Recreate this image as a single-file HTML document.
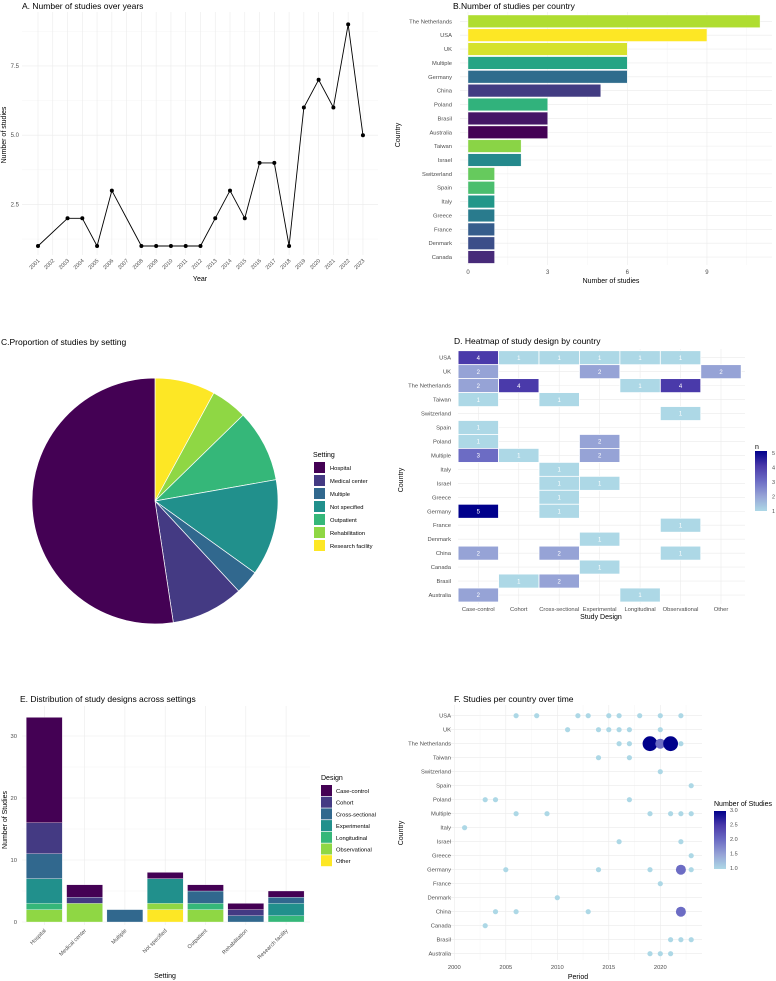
<!DOCTYPE html>
<html><head><meta charset="utf-8"><style>
html,body{margin:0;padding:0;background:#fff;}
svg{display:block;font-family:"Liberation Sans",sans-serif;}
</style></head><body>
<svg id="fig" width="776" height="981" viewBox="0 0 776 981" xmlns="http://www.w3.org/2000/svg">
<defs>
<linearGradient id="gD" x1="0" y1="1" x2="0" y2="0">
<stop offset="0" stop-color="#add8e6"/><stop offset="0.25" stop-color="#96a3d6"/><stop offset="0.5" stop-color="#6c6cc4"/><stop offset="0.75" stop-color="#4a3aaa"/><stop offset="1" stop-color="#00008b"/>
</linearGradient>
</defs>
</svg>
<script>
// ---------- DATA ----------
const yearsA = [2001,2003,2004,2005,2006,2008,2009,2010,2011,2012,2013,2014,2015,2016,2017,2018,2019,2020,2021,2022,2023];
const countsA = [1,2,2,1,3,1,1,1,1,1,2,3,2,4,4,1,6,7,6,9,5];
const countriesB = ["The Netherlands","USA","UK","Multiple","Germany","China","Poland","Brasil","Australia","Taiwan","Israel","Switzerland","Spain","Italy","Greece","France","Denmark","Canada"];
const valuesB = [11,9,6,6,6,5,3,3,3,2,2,1,1,1,1,1,1,1];
const countriesAlpha = ["Australia","Brasil","Canada","China","Denmark","France","Germany","Greece","Israel","Italy","Multiple","Poland","Spain","Switzerland","Taiwan","The Netherlands","UK","USA"];
const settings = ["Hospital","Medical center","Multiple","Not specified","Outpatient","Rehabilitation","Research facility"];
const settingCounts = [33,6,2,8,6,3,5];
const designs = ["Case-control","Cohort","Cross-sectional","Experimental","Longitudinal","Observational","Other"];
const rowsD = ["USA","UK","The Netherlands","Taiwan","Switzerland","Spain","Poland","Multiple","Italy","Israel","Greece","Germany","France","Denmark","China","Canada","Brasil","Australia"];
// cells: [row country, design, n]
const cellsD = [
["USA","Case-control",4],["USA","Cohort",1],["USA","Cross-sectional",1],["USA","Experimental",1],["USA","Longitudinal",1],["USA","Observational",1],
["UK","Case-control",2],["UK","Experimental",2],["UK","Other",2],
["The Netherlands","Case-control",2],["The Netherlands","Cohort",4],["The Netherlands","Longitudinal",1],["The Netherlands","Observational",4],
["Taiwan","Case-control",1],["Taiwan","Cross-sectional",1],
["Switzerland","Observational",1],["Spain","Case-control",1],
["Poland","Case-control",1],["Poland","Experimental",2],
["Multiple","Case-control",3],["Multiple","Cohort",1],["Multiple","Experimental",2],
["Italy","Cross-sectional",1],["Israel","Cross-sectional",1],["Israel","Experimental",1],
["Greece","Cross-sectional",1],["Germany","Case-control",5],["Germany","Cross-sectional",1],
["France","Observational",1],["Denmark","Experimental",1],
["China","Case-control",2],["China","Cross-sectional",2],["China","Observational",1],
["Canada","Experimental",1],["Brasil","Cohort",1],["Brasil","Cross-sectional",2],
["Australia","Case-control",2],["Australia","Longitudinal",1]];
// E: per setting, counts per design (order of designs array)
const caseControlE = [17,2,0,1,1,1,1];
const cohortE = [5,1,0,0,0,1,0];
const crossE = [4,0,2,0,2,1,1];
const experimentalE = [4,0,0,4,0,0,2];
const longitudinalE = [1,0,0,0,1,0,1];
const observationalE = [2,3,0,1,2,0,0];
const otherE = [0,0,0,2,0,0,0];
// F: [country, year, n]
const pointsF = [
["USA",2006,1],["USA",2008,1],["USA",2012,1],["USA",2013,1],["USA",2015,1],["USA",2016,1],["USA",2018,1],["USA",2020,1],["USA",2022,1],
["UK",2011,1],["UK",2014,1],["UK",2015,1],["UK",2016,1],["UK",2017,1],["UK",2020,1],
["The Netherlands",2016,1],["The Netherlands",2017,1],["The Netherlands",2019,3],["The Netherlands",2020,2],["The Netherlands",2021,3],["The Netherlands",2022,1],
["Taiwan",2014,1],["Taiwan",2017,1],["Switzerland",2020,1],["Spain",2023,1],
["Poland",2003,1],["Poland",2004,1],["Poland",2017,1],
["Multiple",2006,1],["Multiple",2009,1],["Multiple",2019,1],["Multiple",2021,1],["Multiple",2022,1],["Multiple",2023,1],
["Italy",2001,1],["Israel",2016,1],["Israel",2022,1],["Greece",2023,1],
["Germany",2005,1],["Germany",2014,1],["Germany",2019,1],["Germany",2022,2],["Germany",2023,1],
["France",2020,1],["Denmark",2010,1],
["China",2004,1],["China",2006,1],["China",2013,1],["China",2022,2],
["Canada",2003,1],["Brasil",2021,1],["Brasil",2022,1],["Brasil",2023,1],
["Australia",2019,1],["Australia",2020,1],["Australia",2021,1]];

// ---------- HELPERS ----------
const svg = document.getElementById('fig');
const NS = "http://www.w3.org/2000/svg";
function mk(tag, attrs, parent){ const e=document.createElementNS(NS,tag); for(const k in attrs) e.setAttribute(k,attrs[k]); (parent||svg).appendChild(e); return e; }
function txt(x,y,s,size,anchor,fill,rot){ const e=mk('text',{x:x,y:y,'font-size':size,'text-anchor':anchor||'start',fill:fill||'#000'}); if(rot) e.setAttribute('transform','rotate('+rot+' '+x+' '+y+')'); e.textContent=s; return e; }
function line(x1,y1,x2,y2,c,w){ return mk('line',{x1:x1,y1:y1,x2:x2,y2:y2,stroke:c,'stroke-width':w}); }
const GM='#ebebeb', GN='#f4f4f4', TK='#4d4d4d';
const vstops=["#440154","#472D7B","#3B528B","#2C728E","#21908C","#27AD81","#5DC863","#AADC32","#FDE725"];
function hex2(c){return [parseInt(c.slice(1,3),16),parseInt(c.slice(3,5),16),parseInt(c.slice(5,7),16)];}
function lerpStops(st,t){ const n=st.length-1; const p=Math.min(n-1e-9,Math.max(0,t*n)); const i=Math.floor(p), f=p-i; const a=hex2(st[i]), b=hex2(st[i+1]); return 'rgb('+a.map((v,k)=>Math.round(v+(b[k]-v)*f)).join(',')+')'; }
const viridis = t=>lerpStops(vstops,t);
const blueStops=["#add8e6","#96a3d6","#6c6cc4","#4a3aaa","#00008b"];
const blues = t=>lerpStops(blueStops,t);
const pal7=["#440154","#443A83","#31688E","#21908C","#35B779","#8FD744","#FDE725"];

// ---------- PANEL A ----------
(function(){
  const xA = yr=>38+(yr-2001)*14.77, yA=v=>246-(v-1)*27.7;
  const g=mk('g',{});  
  [1.25,3.75,6.25,8.75].forEach(v=>line(22,yA(v),378,yA(v),GN,0.5));
  [2.5,5,7.5].forEach(v=>{line(22,yA(v),378,yA(v),GM,0.6); const t=txt(19,yA(v)+2,v.toFixed(1),6,'end',TK);  });
  for(let y=2001;y<=2023;y++){ line(xA(y),12,xA(y),255,GM,0.6); const t=txt(xA(y)+2,261,String(y),5.5,'end',TK,-45);   }
  const pts=yearsA.map((y,i)=>xA(y)+','+yA(countsA[i])).join(' ');
  const pl=mk('polyline',{points:pts,fill:'none',stroke:'#000','stroke-width':0.9});
   
  yearsA.forEach((y,i)=>{ const c=mk('circle',{cx:xA(y),cy:yA(countsA[i]),r:2,fill:'#000'});   });
  const t=txt(22,9,'A. Number of studies over years',8.5,'start','#000');  
  const xt=txt(200,281,'Year',7,'middle','#000');  
  const yt=txt(6,135,'Number of studies',7,'middle','#000',-90);  
})();

// ---------- PANEL B ----------
(function(){
  const xB=v=>468+v*26.55, yB=i=>21.3+i*13.87;
  [1.5,4.5,7.5,10.5].forEach(v=>line(xB(v),12,xB(v),265,GN,0.5));
  [0,3,6,9].forEach(v=>{line(xB(v),12,xB(v),265,GM,0.6); const t=txt(xB(v),274,String(v),6,'middle',TK);  });
  countriesB.forEach((c,i)=>{
    line(460,yB(i),772,yB(i),GM,0.6);
    const t=txt(452,yB(i)+2,c,5.8,'end',TK);  
    const col=viridis(countriesAlpha.indexOf(c)/17);
    const r=mk('rect',{x:xB(0),y:yB(i)-6.3,width:xB(valuesB[i])-xB(0),height:12.6,fill:col,stroke:'#fff','stroke-width':0.4});
     
  });
  const t=txt(453,9,'B.Number of studies per country',8.5,'start','#000');  
  const xt=txt(611,283,'Number of studies',7,'middle','#000');  
  const yt=txt(400,135,'Country',7,'middle','#000',-90);  
})();

// ---------- PANEL C ----------
(function(){
  const cx=155, cy=501, R=123;
  const total=settingCounts.reduce((a,b)=>a+b,0);
  let ang=0;
  for(let k=settings.length-1;k>=0;k--){
    const a0=ang, a1=ang+settingCounts[k]/total*2*Math.PI; ang=a1;
    const x0=cx+R*Math.sin(a0), y0=cy-R*Math.cos(a0), x1=cx+R*Math.sin(a1), y1=cy-R*Math.cos(a1);
    const large=(a1-a0)>Math.PI?1:0;
    const p=mk('path',{d:`M${cx},${cy} L${x0},${y0} A${R},${R} 0 ${large} 1 ${x1},${y1} Z`,fill:pal7[k],stroke:'#fff','stroke-width':0.7});
     
  }
  const t=txt(1,345,'C.Proportion of studies by setting',8.5,'start','#000');  
  const lt=txt(313,457,'Setting',7,'start','#000');  
  settings.forEach((s,i)=>{
    const y=462+i*13;
    const r=mk('rect',{x:314,y:y,width:11,height:11,fill:pal7[i]});  
    const lt2=txt(330,y+8,s,5.8,'start','#000');  
  });
})();

// ---------- PANEL D ----------
(function(){
  const xD=j=>478.3+j*40.45, yD=i=>357.7+i*13.96;
  rowsD.forEach((c,i)=>{ line(458,yD(i),745,yD(i),GM,0.6); const t=txt(451,yD(i)+2,c,5.8,'end',TK);   });
  designs.forEach((d,j)=>{ line(xD(j),349,xD(j),604,GM,0.6); const t=txt(xD(j),611,d,5.8,'middle',TK);   });
  cellsD.forEach(c=>{
    const i=rowsD.indexOf(c[0]), j=designs.indexOf(c[1]);
    const r=mk('rect',{x:xD(j)-20.2,y:yD(i)-7,width:40.4,height:14,fill:blues((c[2]-1)/4),stroke:'#fff','stroke-width':0.8});
     
    const t=txt(xD(j),yD(i)+2.2,String(c[2]),6,'middle','#fff');  
  });
  const t=txt(454,344,'D. Heatmap of study design by country',8.5,'start','#000');  
  const xt=txt(601,619,'Study Design',7,'middle','#000');  
  const yt=txt(403,480,'Country',7,'middle','#000',-90);  
  const lt=txt(755,449,'n',7,'start','#000');  
  const lb=mk('rect',{x:755,y:451,width:12,height:60,fill:'url(#gD)'});  
  [1,2,3,4,5].forEach(v=>{ const y=511-(v-1)*14.5; const tt=txt(772,y+2,String(v),5.5,'start',TK);   });
})();

// ---------- PANEL E ----------
(function(){
  const yE=v=>922-v*6.2, xE=i=>44.3+i*40.3;
  [5,15,25].forEach(v=>line(22,yE(v),310,yE(v),GN,0.5));
  [0,10,20,30].forEach(v=>{ line(22,yE(v),310,yE(v),GM,0.6); const t=txt(17,yE(v)+2,String(v),5.8,'end',TK);   });
  settings.forEach((s,i)=>{ line(xE(i),706,xE(i),925,GM,0.6); const t=txt(xE(i)+2,931,s,5.5,'end',TK,-45);   });
  const stack=[[otherE,6],[observationalE,5],[longitudinalE,4],[experimentalE,3],[crossE,2],[cohortE,1],[caseControlE,0]];
  settings.forEach((s,i)=>{
    let base=0;
    stack.forEach(([arr,k])=>{
      const v=arr[i]; if(!v) return;
      const r=mk('rect',{x:xE(i)-18,y:yE(base+v),width:36,height:yE(base)-yE(base+v),fill:pal7[k],stroke:'#fff','stroke-width':0.3});
       
      base+=v;
    });
  });
  const t=txt(20,702,'E. Distribution of study designs across settings',8.5,'start','#000');  
  const xt=txt(165,978,'Setting',7,'middle','#000');  
  const yt=txt(7,820,'Number of Studies',7,'middle','#000',-90);  
  const lt=txt(321,780,'Design',7,'start','#000');  
  designs.forEach((d,i)=>{
    const y=785+i*11.7;
    const r=mk('rect',{x:321,y:y,width:11,height:11,fill:pal7[i]});  
    const t2=txt(336,y+8,d,5.8,'start','#000');  
  });
})();

// ---------- PANEL F ----------
(function(){
  const xF=yr=>454.3+(yr-2000)*10.3, yF=i=>715.7+i*14;
  [2002.5,2007.5,2012.5,2017.5,2022.5].forEach(v=>line(xF(v),705,xF(v),960,GN,0.5));
  [2000,2005,2010,2015,2020].forEach(v=>{ line(xF(v),705,xF(v),960,GM,0.6); const t=txt(xF(v),969,String(v),5.8,'middle',TK);   });
  rowsD.forEach((c,i)=>{ line(450,yF(i),702,yF(i),GM,0.6); const t=txt(451,yF(i)+2,c,5.8,'end',TK);   });
  pointsF.forEach(p=>{
    const i=rowsD.indexOf(p[0]);
    const c=mk('circle',{cx:xF(p[1]),cy:yF(i),r:2.6+(p[2]-1)*2.4,fill:blues((p[2]-1)/2)});
     
  });
  const t=txt(454,702,'F. Studies per country over time',8.5,'start','#000');  
  const xt=txt(578,979,'Period',7,'middle','#000');  
  const yt=txt(403,833,'Country',7,'middle','#000',-90);  
  const lt=txt(714,806,'Number of Studies',7,'start','#000');  
  const lb=mk('rect',{x:714,y:811,width:12,height:58,fill:'url(#gD)'});  
  ["1.0","1.5","2.0","2.5","3.0"].forEach((s,k)=>{ const y=868-k*14.5; const tt=txt(730,y+2,s,5.5,'start',TK);   });
})();
</script>
</body></html>
